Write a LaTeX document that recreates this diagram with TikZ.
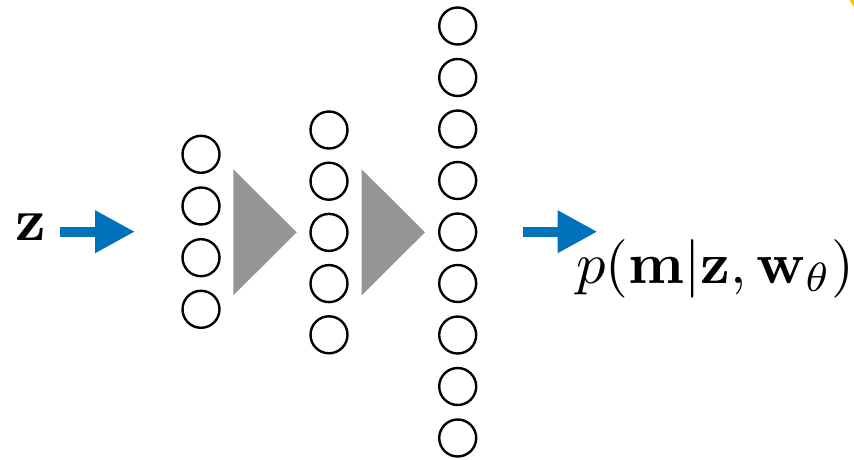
\documentclass[tikz,border=0pt]{standalone}
\usetikzlibrary{arrows.meta}
\definecolor{arrowblue}{RGB}{0,114,188}
\definecolor{trigray}{RGB}{149,149,149}
\definecolor{cornery}{RGB}{255,192,0}
\tikzset{
  neuron/.style={circle, draw=black, line width=2.4pt, minimum size=37pt, inner sep=0pt},
  layertri/.style={fill=trigray},
  bluearrow/.style={draw=arrowblue, line width=10pt, -{Triangle[length=40pt,width=40pt]}},
  bigtext/.style={inner sep=0pt, scale=6},
  ptext/.style={inner sep=0pt, scale=5.85}
}
\begin{document}
\begin{tikzpicture}[x=1pt,y=-1pt]
\useasboundingbox (0,0) rectangle (854,460);
% column 1
\foreach \i/\y in {1/154.3,2/206,3/257.7,4/309.3}
  \node[neuron] (a\i) at (201,\y) {};
% column 2
\foreach \i/\y in {1/130,2/181.2,3/232.4,4/283.6,5/334.8}
  \node[neuron] (b\i) at (329,\y) {};
% column 3
\foreach \i in {1,...,9}
  \node[neuron] (c\i) at (457.7,{26+51.5*(\i-1)}) {};
% triangles
\fill[layertri] (233.3,169.3) -- (296.7,232.3) -- (233.3,295.3) -- cycle;
\fill[layertri] (361.7,169.3) -- (425,232.3) -- (361.7,295.3) -- cycle;
% labels
\node[bigtext, anchor=base west] (zin) at (14,240) {$\mathbf{z}$};
\node[ptext, anchor=base west] (pout) at (575,283) {$p(\mathbf{m}|\mathbf{z},\mathbf{w}_\theta)$};
% arrows
\coordinate (s1) at (60,231.7);
\coordinate (e1) at (135,231.7);
\coordinate (s2) at (523,231.7);
\coordinate (e2) at (597.5,231.7);
\draw[bluearrow] (s1) -- (e1);
\draw[bluearrow] (s2) -- (e2);
% corner fragment
\fill[cornery] (849.5,0) -- (854,0) -- (854,7) -- cycle;
\end{tikzpicture}
\end{document}
